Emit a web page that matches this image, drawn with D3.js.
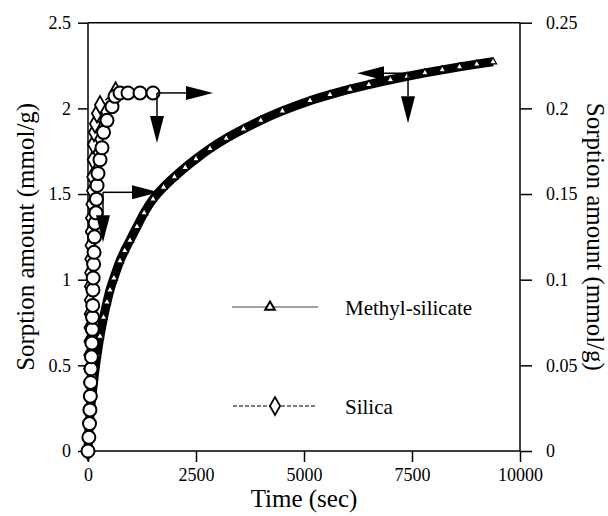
<!DOCTYPE html>
<html>
<head>
<meta charset="utf-8">
<script src="https://cdn.jsdelivr.net/npm/d3@7"></script>
<style>
body { margin: 0; background: #fff; }
text { font-family: "Liberation Serif", "DejaVu Serif", serif; fill: #000; }
</style>
</head>
<body>
<svg id="chart"></svg>
<script>
// methyl-silicate, read on the left axis (mmol/g)
var methylTime = [0, 20, 50, 90, 140, 208, 278, 360, 440, 509, 600, 741, 850, 972, 1134, 1300, 1505, 1750, 2000, 2250, 2500, 2824, 3200, 3600, 4000, 4500, 5139, 5600, 6065, 6500, 7000, 7385, 7800, 8200, 8600, 9000, 9375];
var methylAmount = [0, 0.12, 0.22, 0.32, 0.43, 0.56, 0.67, 0.78, 0.87, 0.94, 1.01, 1.11, 1.17, 1.23, 1.31, 1.39, 1.47, 1.54, 1.60, 1.655, 1.705, 1.765, 1.825, 1.88, 1.93, 1.985, 2.045, 2.08, 2.112, 2.139, 2.167, 2.187, 2.207, 2.225, 2.242, 2.258, 2.272];

// silica, read on the right axis (mmol/g)
var silicaTime = [0, 5, 10, 15, 20, 25, 28, 30, 33, 36, 40, 43, 46, 50, 55, 60, 65, 70, 80, 93, 100, 110, 116, 139, 162, 208, 278, 640];
var silicaAmount = [0, 0.008, 0.016, 0.024, 0.032, 0.040, 0.048, 0.056, 0.064, 0.072, 0.080, 0.088, 0.096, 0.104, 0.112, 0.120, 0.128, 0.136, 0.144, 0.152, 0.160, 0.170, 0.179, 0.186, 0.191, 0.197, 0.202, 0.210];

// circle series, right axis
var circleTime = [0, 20, 35, 45, 55, 62, 70, 80, 90, 100, 105, 110, 115, 120, 130, 140, 150, 165, 185, 195, 210, 231, 278, 324, 360, 440, 556, 625, 741, 926, 1204, 1505];
var circleAmount = [0, 0.008, 0.016, 0.024, 0.032, 0.040, 0.048, 0.055, 0.063, 0.071, 0.078, 0.085, 0.094, 0.101, 0.109, 0.116, 0.125, 0.133, 0.139, 0.147, 0.155, 0.162, 0.170, 0.177, 0.186, 0.193, 0.201, 0.207, 0.209, 0.209, 0.209, 0.209];

var xTicks = [0, 2500, 5000, 7500, 10000];
var leftTicks = [0, 0.5, 1, 1.5, 2, 2.5];
var rightTicks = [0, 0.05, 0.1, 0.15, 0.2, 0.25];

// arrows: which axis, where they start, which way they point
var arrows = [
    {axis: "right", time: 1597, amount: 0.209, dir: "right"},
    {axis: "right", time: 1597, amount: 0.209, dir: "down"},
    {axis: "right", time: 347, amount: 0.151, dir: "right"},
    {axis: "right", time: 347, amount: 0.151, dir: "down"},
    {axis: "left", time: 7408, amount: 2.205, dir: "left"},
    {axis: "left", time: 7408, amount: 2.205, dir: "down"}
];

var width = 608, height = 516;
var plotLeft = 88, plotRight = 520, plotTop = 22.7, plotBottom = 451;

var svg = d3.select("#chart")
    .attr("width", width)
    .attr("height", height);

var xScale = d3.scaleLinear().domain([0, 10000]).range([plotLeft, plotRight]);
var yLeft = d3.scaleLinear().domain([0, 2.5]).range([plotBottom, plotTop]);
var yRight = d3.scaleLinear().domain([0, 0.25]).range([plotBottom, plotTop]);

var zip = function(xs, ys) {
    return xs.map(function(x, i) { return {x: x, y: ys[i]}; });
};
var methyl = zip(methylTime, methylAmount);
var silica = zip(silicaTime, silicaAmount);
var circles = zip(circleTime, circleAmount);

// frame
var frame = svg.append("g").attr("stroke", "#000").attr("stroke-width", 1.5);
frame.append("line").attr("x1", plotLeft).attr("x2", plotLeft).attr("y1", plotTop).attr("y2", plotBottom);
frame.append("line").attr("x1", plotRight).attr("x2", plotRight).attr("y1", plotTop).attr("y2", plotBottom);
frame.append("line").attr("x1", plotLeft).attr("x2", plotRight).attr("y1", plotBottom).attr("y2", plotBottom);
frame.append("line").attr("x1", plotLeft).attr("x2", plotRight).attr("y1", plotTop).attr("y2", plotTop);

// axes
var xAxis = d3.axisBottom(xScale).tickValues(xTicks).tickSize(11).tickPadding(6).tickFormat(d3.format("d"));
var leftAxis = d3.axisLeft(yLeft).tickValues(leftTicks).tickSize(10).tickPadding(7).tickFormat(function(d) { return String(d); });
var rightAxis = d3.axisRight(yRight).tickValues(rightTicks).tickSize(12).tickPadding(14).tickFormat(function(d) { return String(d); });

var styleAxis = function(g) {
    g.select(".domain").remove();
    g.selectAll(".tick line").attr("stroke", "#000").attr("stroke-width", 1.5);
    g.selectAll(".tick text").style("font-family", "Liberation Serif").style("font-size", "18px").attr("fill", "#000");
};
svg.append("g").attr("transform", "translate(0," + plotBottom + ")").call(xAxis).call(styleAxis);
svg.append("g").attr("transform", "translate(" + plotLeft + ",0)").call(leftAxis).call(styleAxis);
svg.append("g").attr("transform", "translate(" + plotRight + ",0)").call(rightAxis).call(styleAxis);

// axis titles
svg.append("text")
    .attr("x", (plotLeft + plotRight) / 2).attr("y", 507)
    .attr("text-anchor", "middle")
    .style("font-size", "25px")
    .text("Time (sec)");
svg.append("text")
    .attr("transform", "translate(34," + ((plotTop + plotBottom) / 2) + ") rotate(-90)")
    .attr("text-anchor", "middle")
    .style("font-size", "25px")
    .text("Sorption amount (mmol/g)");
svg.append("text")
    .attr("transform", "translate(587," + ((plotTop + plotBottom) / 2) + ") rotate(90)")
    .attr("text-anchor", "middle")
    .style("font-size", "25px")
    .text("Sorption amount (mmol/g)");

// methyl-silicate: dense marker band
var lineLeft = d3.line()
    .x(function(d) { return xScale(d.x); })
    .y(function(d) { return yLeft(d.y); })
    .curve(d3.curveMonotoneX);
var lineRight = d3.line()
    .x(function(d) { return xScale(d.x); })
    .y(function(d) { return yRight(d.y); });

svg.append("path")
    .datum(methyl)
    .attr("d", lineLeft)
    .attr("fill", "none")
    .attr("stroke", "#000")
    .attr("stroke-width", 9)
    .attr("stroke-linejoin", "round");

var tri = d3.symbol().type(d3.symbolTriangle).size(22);
svg.append("g").selectAll("path")
    .data(methyl)
    .enter()
    .append("path")
    .attr("d", tri)
    .attr("transform", function(d) { return "translate(" + xScale(d.x) + "," + yLeft(d.y) + ")"; })
    .attr("fill", "#fff")
    .attr("stroke", "#000")
    .attr("stroke-width", 1.2);

// silica diamonds, dashed
svg.append("path")
    .datum(silica)
    .attr("d", lineRight)
    .attr("fill", "none")
    .attr("stroke", "#000")
    .attr("stroke-width", 1.5)
    .attr("stroke-dasharray", "4,2");

var diamond = d3.symbol().type(d3.symbolDiamond).size(90);
svg.append("g").selectAll("path")
    .data(silica)
    .enter()
    .append("path")
    .attr("d", diamond)
    .attr("transform", function(d) { return "translate(" + xScale(d.x) + "," + yRight(d.y) + ")"; })
    .attr("fill", "#fff")
    .attr("stroke", "#000")
    .attr("stroke-width", 1.8);

// circles
svg.append("path")
    .datum(circles)
    .attr("d", lineRight)
    .attr("fill", "none")
    .attr("stroke", "#000")
    .attr("stroke-width", 1.5);

svg.append("g").selectAll("circle")
    .data(circles)
    .enter()
    .append("circle")
    .attr("cx", function(d) { return xScale(d.x); })
    .attr("cy", function(d) { return yRight(d.y); })
    .attr("r", 6.5)
    .attr("fill", "#fff")
    .attr("stroke", "#000")
    .attr("stroke-width", 2);

// arrows
var arrowLen = {right: 56, left: 51, down: 50};
var headLen = 27, headHalf = 7;
arrows.forEach(function(a) {
    var x0 = xScale(a.time);
    var y0 = a.axis == "left" ? yLeft(a.amount) : yRight(a.amount);
    var len = arrowLen[a.dir];
    var dx = a.dir == "right" ? 1 : (a.dir == "left" ? -1 : 0);
    var dy = a.dir == "down" ? 1 : 0;
    var x1 = x0 + dx * len, y1 = y0 + dy * len;
    var bx = x1 - dx * headLen, by = y1 - dy * headLen;
    svg.append("line")
        .attr("x1", x0).attr("y1", y0).attr("x2", bx).attr("y2", by)
        .attr("stroke", "#000").attr("stroke-width", 1.5);
    var pts = [[x1, y1], [bx - dy * headHalf, by - dx * headHalf], [bx + dy * headHalf, by + dx * headHalf]];
    svg.append("polygon")
        .attr("points", pts.map(function(p) { return p.join(","); }).join(" "))
        .attr("fill", "#000");
});

// legend
var legend = svg.append("g");
legend.append("line")
    .attr("x1", 232).attr("x2", 318).attr("y1", 307).attr("y2", 307)
    .attr("stroke", "#444").attr("stroke-width", 1.2);
legend.append("path")
    .attr("d", d3.symbol().type(d3.symbolTriangle).size(40))
    .attr("transform", "translate(270,307)")
    .attr("fill", "#fff").attr("stroke", "#000").attr("stroke-width", 2);
legend.append("text")
    .attr("x", 345).attr("y", 315)
    .style("font-size", "21px")
    .text("Methyl-silicate");
legend.append("line")
    .attr("x1", 233).attr("x2", 317).attr("y1", 406).attr("y2", 406)
    .attr("stroke", "#000").attr("stroke-width", 1.2).attr("stroke-dasharray", "4,2");
legend.append("path")
    .attr("d", d3.symbol().type(d3.symbolDiamond).size(90))
    .attr("transform", "translate(275,406)")
    .attr("fill", "#fff").attr("stroke", "#000").attr("stroke-width", 1.8);
legend.append("text")
    .attr("x", 345).attr("y", 414)
    .style("font-size", "21px")
    .text("Silica");
</script>
</body>
</html>
